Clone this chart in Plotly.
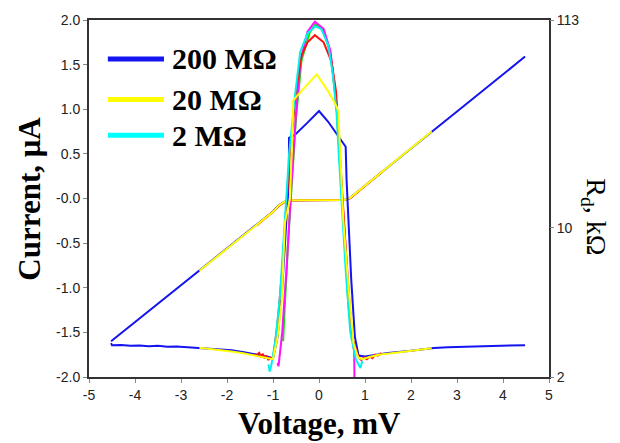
import plotly.graph_objects as go

# ---------------- data ----------------
x_ticks = [-5, -4, -3, -2, -1, 0, 1, 2, 3, 4, 5]
x_ticktext = ["-5", "-4", "-3", "-2", "-1", "0", "1", "2", "3", "4", "5"]
y_tickvals = [-2.0, -1.5, -1.0, -0.5, 0.0, 0.5, 1.0, 1.5, 2.0]
y_ticktext = ["-2.0", "-1.5", "-1.0", "-0.5", "-0.0", "0.5", "1.0", "1.5", "2.0"]
# right axis (differential resistance, kOhm) — tick positions expressed in left-axis units
rd_tickvals = [2.0, -0.33, -2.0]
rd_ticktext = ["113", "10", "2"]

legend_labels = ["200 MΩ", "20 MΩ", "2 MΩ"]
legend_colors = ["#1414f0", "#ffff00", "#00ffff"]

# I-V curves
blue_iv_v = [-4.52, -4.0, -3.0, -2.0, -1.5, -1.0, -0.88, -0.75, -0.6, -0.3, 0.0, 0.3, 0.55, 0.67, 0.8, 1.0, 1.5, 2.0, 3.0, 4.0, 4.48]
blue_iv_i = [-1.60, -1.385, -0.97, -0.555, -0.35, -0.145, -0.08, -0.035, -0.02, -0.018, -0.018, -0.018, -0.017, 0.005, 0.06, 0.145, 0.355, 0.56, 0.975, 1.39, 1.59]
red_iv_v = [-1.35, -1.0, -0.88, -0.75, -0.6, 0.0, 0.55, 0.67, 0.8, 1.0, 1.4]
red_iv_i = [-0.30, -0.15, -0.085, -0.04, -0.022, -0.02, -0.018, 0.0, 0.055, 0.14, 0.31]
yellow_iv_v = [-2.6, -2.0, -1.5, -1.0, -0.88, -0.75, -0.6, -0.3, 0.0, 0.3, 0.55, 0.67, 0.8, 1.0, 1.5, 2.0, 2.45]
yellow_iv_i = [-0.81, -0.56, -0.355, -0.15, -0.08, -0.035, -0.02, -0.018, -0.018, -0.018, -0.017, 0.005, 0.06, 0.145, 0.355, 0.56, 0.75]

# differential-resistance curves (right axis)
blue_rd_v = [-4.52, -4.5, -4.3, -4.1, -3.9, -3.7, -3.5, -3.3, -3.1, -2.9, -2.7, -2.5, -2.2, -1.9, -1.6, -1.3, -1.1, -1.0,
             -0.9, -0.8, -0.7, -0.655, -0.652, -0.52, -0.25, 0.0, 0.2, 0.385, 0.58, 0.6, 0.64, 0.7, 0.78, 0.86, 1.0,
             1.5, 2.0, 2.5, 2.8, 3.1, 3.4, 3.7, 4.0, 4.3, 4.48]
blue_rd_i = [-1.62, -1.645, -1.642, -1.65, -1.647, -1.655, -1.651, -1.66, -1.657, -1.664, -1.667, -1.675, -1.69, -1.70, -1.725, -1.75, -1.775, -1.795,
             -1.55, -1.0, -0.2, 0.2, 0.68, 0.715, 0.85, 0.98, 0.86, 0.73, 0.58, 0.2, -0.3, -0.9, -1.55, -1.76, -1.77,
             -1.73, -1.705, -1.675, -1.667, -1.664, -1.659, -1.655, -1.651, -1.648, -1.643]

green_rd_v = [-0.78, -0.74, -0.68, -0.6, -0.5, -0.38, -0.2, -0.08, 0.1, 0.25, 0.38, 0.47, 0.56, 0.64, 0.72]
green_rd_i = [-1.6, -1.15, -0.55, 0.1, 0.9, 1.55, 1.86, 1.95, 1.88, 1.62, 1.05, 0.3, -0.5, -1.2, -1.6]

magenta_rd_v = [-0.9, -0.88, -0.8, -0.7, -0.6, -0.5, -0.4, -0.25, -0.09, 0.1, 0.25, 0.38, 0.5, 0.6, 0.7, 0.765, 0.775]
magenta_rd_i = [-1.84, -1.88, -1.5, -0.75, 0.15, 0.95, 1.55, 1.87, 1.98, 1.9, 1.65, 1.05, 0.05, -0.75, -1.45, -1.72, -2.3]

red_rd_v = [-1.4, -1.36, -1.3, -1.26, -1.22, -1.18, -1.14, -1.1, -1.06, -1.0, -0.9, -0.8, -0.7, -0.63, -0.5, -0.38, -0.25,
            -0.09, 0.1, 0.275, 0.37, 0.45, 0.53, 0.62, 0.72, 0.85, 0.92, 0.98, 1.04, 1.1, 1.16, 1.22, 1.28, 1.35]
red_rd_i = [-1.74, -1.76, -1.73, -1.77, -1.74, -1.79, -1.76, -1.81, -1.78, -1.79, -1.4, -0.8, 0.0, 0.5, 1.2, 1.6, 1.75,
            1.83, 1.75, 1.53, 1.2, 0.5, -0.17, -0.9, -1.55, -1.77, -1.81, -1.78, -1.80, -1.77, -1.79, -1.75, -1.76, -1.73]

cyan_rd_v = [-1.1, -1.07, -1.03, -0.95, -0.85, -0.75, -0.65, -0.52, -0.41, -0.25, -0.08, 0.05, 0.2, 0.3, 0.38, 0.44,
             0.49, 0.58, 0.68, 0.8, 0.86, 0.9, 0.94]
cyan_rd_i = [-1.86, -1.94, -1.85, -1.6, -1.1, -0.3, 0.5, 1.16, 1.64, 1.85, 1.93, 1.9, 1.72, 1.4, 0.97, 0.4,
             -0.03, -0.8, -1.5, -1.8, -1.86, -1.9, -1.82]

yellow_rd_v = [-2.6, -2.4, -2.2, -2.0, -1.86, -1.65, -1.43, -1.3, -1.14, -1.0, -0.9, -0.81, -0.74, -0.63, -0.575, -0.56,
               -0.3, -0.05, 0.2, 0.385, 0.42, 0.53, 0.65, 0.75, 0.85, 0.93, 1.1, 1.3, 1.62, 1.98, 2.2, 2.45]
yellow_rd_i = [-1.673, -1.683, -1.695, -1.705, -1.718, -1.735, -1.755, -1.765, -1.78, -1.80, -1.55, -1.15, -0.27, 0.0, 0.8, 1.10,
               1.25, 1.39, 1.2, 1.03, 0.97, -0.25, -1.05, -1.62, -1.78, -1.80, -1.775, -1.75, -1.73, -1.707, -1.69, -1.678]

# ---------------- figure ----------------
fig = go.Figure()

def add(v, i, color, axis="y", width=2):
    fig.add_trace(go.Scatter(x=v, y=i, mode="lines", yaxis=axis, showlegend=False,
                             line=dict(color=color, width=width), hoverinfo="skip"))

add(blue_iv_v, blue_iv_i, "#1414f0")
add(red_iv_v, red_iv_i, "#ff1010")
add(yellow_iv_v, yellow_iv_i, "#ffff00")
add(blue_rd_v, blue_rd_i, "#1414f0", "y2")
add(green_rd_v, green_rd_i, "#10e010", "y2")
add(magenta_rd_v, magenta_rd_i, "#ff10ff", "y2")
add(red_rd_v, red_rd_i, "#ff1010", "y2")
add(cyan_rd_v, cyan_rd_i, "#00f0f0", "y2")
add(yellow_rd_v, yellow_rd_i, "#ffff00", "y2")

tickfont = dict(family="Liberation Sans, Arial, sans-serif", size=14, color="#222")

fig.update_layout(
    width=620, height=443,
    margin=dict(l=89, r=71, t=18, b=66),
    paper_bgcolor="white", plot_bgcolor="white",
    xaxis=dict(range=[-5, 5], tickvals=x_ticks, ticktext=x_ticktext, ticks="outside", ticklen=4, tickcolor="#888",
               showline=True, linecolor="#333", linewidth=2, mirror=True, showgrid=False, zeroline=False,
               tickfont=tickfont),
    yaxis=dict(range=[-2, 2], tickvals=y_tickvals, ticktext=y_ticktext, ticks="outside", ticklen=4,
               tickcolor="#888", showline=True, linecolor="#333", linewidth=2, mirror=True,
               showgrid=False, zeroline=False, tickfont=tickfont),
    yaxis2=dict(range=[-2, 2], overlaying="y", side="right", tickvals=rd_tickvals, ticktext=rd_ticktext,
                ticks="outside", ticklen=4, tickcolor="#888", showline=False, showgrid=False,
                zeroline=False, tickfont=tickfont),
)

# axis titles
title_font = dict(family="Liberation Serif, Times New Roman, serif", size=31, color="black")
fig.add_annotation(text="<b>Voltage, mV</b>", xref="paper", yref="paper", x=0.5, y=-0.13,
                   xanchor="center", yanchor="middle", showarrow=False, font=title_font)
fig.add_annotation(text="<b>Current, μA</b>", xref="paper", yref="paper", x=-0.13, y=0.5,
                   xanchor="center", yanchor="middle", textangle=-90, showarrow=False, font=title_font)
fig.add_annotation(text="R<sub>d</sub>, kΩ", xref="paper", yref="paper", x=1.1, y=0.45,
                   xanchor="center", yanchor="middle", textangle=90, showarrow=False,
                   font=dict(family="Liberation Serif, Times New Roman, serif", size=28, color="black"))

# legend (drawn manually to match long thick keys)
legend_y = [0.891, 0.777, 0.677]
for lab, col, yy in zip(legend_labels, legend_colors, legend_y):
    fig.add_shape(type="line", xref="paper", yref="paper", x0=0.041, x1=0.163, y0=yy, y1=yy,
                  line=dict(color=col, width=5))
    fig.add_annotation(text="<b>" + lab + "</b>", xref="paper", yref="paper", x=0.176, y=yy,
                       xanchor="left", yanchor="middle", showarrow=False,
                       font=dict(family="Liberation Serif, Times New Roman, serif", size=30, color="black"))

fig.write_html("out.html")
